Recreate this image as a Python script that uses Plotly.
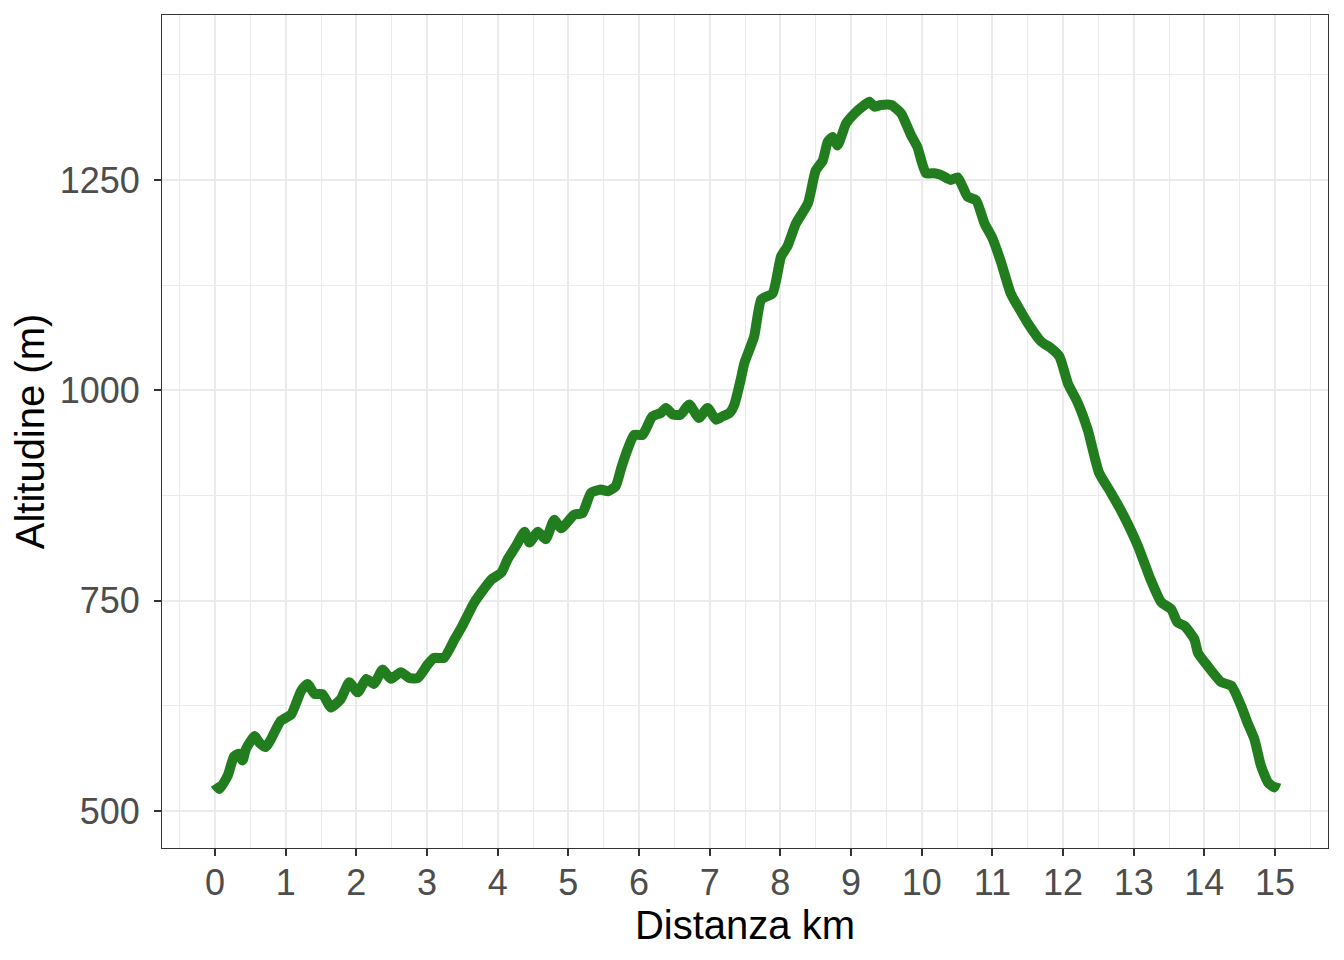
import plotly.graph_objects as go

distanza_km = [0.00, 0.06, 0.18, 0.27, 0.34, 0.39, 0.44, 0.56, 0.63, 0.72, 0.79, 0.93, 1.08, 1.22, 1.31, 1.41,
               1.52, 1.64, 1.78, 1.90, 2.02, 2.14, 2.25, 2.37, 2.49, 2.63, 2.75, 2.87, 3.01, 3.10, 3.24, 3.39,
               3.50, 3.67, 3.91, 4.05, 4.14, 4.26, 4.38, 4.45, 4.57, 4.68, 4.80, 4.90, 5.08, 5.20, 5.32, 5.46,
               5.56, 5.67, 5.75, 5.84, 5.93, 6.05, 6.19, 6.31, 6.38, 6.48, 6.59, 6.71, 6.85, 6.97, 7.09, 7.18,
               7.28, 7.35, 7.44, 7.49, 7.63, 7.73, 7.89, 8.01, 8.10, 8.22, 8.39, 8.50, 8.60, 8.67, 8.74, 8.81,
               8.93, 9.05, 9.19, 9.26, 9.33, 9.42, 9.57, 9.71, 9.85, 9.94, 10.06, 10.18, 10.27, 10.41, 10.51,
               10.65, 10.77, 10.89, 11.00, 11.12, 11.26, 11.36, 11.50, 11.69, 11.83, 11.95, 12.07, 12.21,
               12.35, 12.51, 12.68, 12.84, 13.06, 13.24, 13.39, 13.53, 13.62, 13.72, 13.86, 13.91, 14.05,
               14.24, 14.38, 14.52, 14.61, 14.71, 14.80, 14.90, 14.99, 15.02]
altitudine_m = [532, 526, 542, 565, 568, 560, 574, 589, 581, 576, 585, 607, 615, 643, 651, 639,
                639, 623, 633, 653, 641, 657, 651, 668, 657, 665, 658, 658, 674, 682, 682, 704,
                720, 748, 775, 783, 799, 815, 832, 819, 832, 823, 846, 836, 852, 854, 878, 882,
                880, 886, 908, 930, 947, 947, 969, 973, 979, 971, 971, 983, 967, 979, 965, 969,
                973, 983, 1013, 1032, 1064, 1108, 1115, 1159, 1171, 1198, 1222, 1261, 1273, 1295, 1301, 1291,
                1317, 1329, 1339, 1343, 1337, 1339, 1339, 1329, 1303, 1289, 1258, 1258, 1256, 1250, 1253,
                1230, 1226, 1198, 1181, 1153, 1115, 1100, 1080, 1058, 1050, 1040, 1008, 985,
                953, 902, 878, 854, 815, 775, 748, 740, 724, 720, 704, 688, 672,
                653, 649, 625, 605, 585, 554, 534, 528, 534]

x_ticks = list(range(0, 16))
y_ticks = [500, 750, 1000, 1250]

FONT = "Liberation Sans, Arial, Helvetica, sans-serif"
GRID = "#EBEBEB"
DARK = "#333333"

fig = go.Figure()
fig.add_trace(go.Scatter(
    x=distanza_km, y=altitudine_m, mode="lines",
    line=dict(color="#217D1E", width=10, shape="spline", smoothing=0.5),
    hoverinfo="x+y", showlegend=False,
))

axis_common = dict(
    showline=True, mirror=True, linecolor=DARK, linewidth=1,
    ticks="outside", ticklen=7, tickcolor=DARK, tickwidth=1.5,
    showgrid=True, gridcolor=GRID, gridwidth=2, zeroline=False,
    tickfont=dict(family=FONT, size=36, color="#4D4D4D"),
)

fig.update_layout(
    width=1344, height=960,
    paper_bgcolor="white", plot_bgcolor="white",
    margin=dict(l=154, r=24, t=7, b=120),
    xaxis=dict(
        **axis_common,
        range=[-0.75, 15.75], tickmode="array", tickvals=x_ticks,
        ticktext=[str(v) for v in x_ticks],
        ticklabelstandoff=-4,
        minor=dict(dtick=0.5, tick0=0.5, showgrid=True, gridcolor=GRID, gridwidth=1, ticks=""),
        title=dict(text="Distanza km", font=dict(family=FONT, size=40, color="black"), standoff=2),
    ),
    yaxis=dict(
        **axis_common,
        range=[456, 1446], tickmode="array", tickvals=y_ticks,
        ticktext=[str(v) for v in y_ticks],
        ticklabelstandoff=7,
        minor=dict(dtick=125, tick0=375, showgrid=True, gridcolor=GRID, gridwidth=1, ticks=""),
        title=dict(text="Altitudine (m)", font=dict(family=FONT, size=40, color="black"), standoff=6),
    ),
)

fig.write_html("out.html")
